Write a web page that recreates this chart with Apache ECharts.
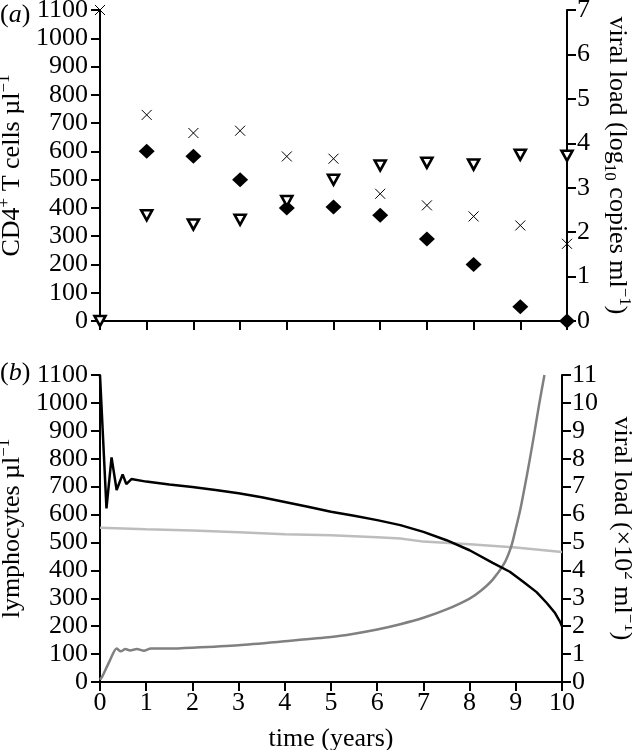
<!DOCTYPE html>
<html>
<head>
<meta charset="utf-8">
<script src="https://cdn.jsdelivr.net/npm/echarts@6/dist/echarts.min.js"></script>
<style>
html,body{margin:0;padding:0;background:#fff;}
#chart{width:632px;height:750px;}
</style>
</head>
<body>
<div id="chart"></div>
<script>
// ---- Panel (a): observed data ----
const yearsA = [0, 1, 2, 3, 4, 5, 6, 7, 8, 9, 10];
const yearsDiamond = [1, 2, 3, 4, 5, 6, 7, 8, 9, 10];
const cd4Diamond = [600, 583, 500, 400, 403, 374, 290, 200, 50, 0];           // left axis (cells/µl)
const crossValues = [1100, 729, 665, 673, 582, 574, 450, 409, 370, 338, 273];  // left axis (cells/µl)
const viralLog10 = [0, 2.38, 2.17, 2.28, 2.70, 3.18, 3.50, 3.56, 3.52, 3.74, 3.72]; // right axis

const leftTicksA = [0, 1100, 100];
const rightTicksA = [0, 7, 1];

// ---- Panel (b): model curves ----
const cd4T = [0, 0.14, 0.25, 0.36, 0.49, 0.57, 0.68, 1, 1.5, 2, 2.5, 3, 3.5, 4, 4.5, 5, 5.5, 6, 6.5, 7, 7.5, 8, 8.5, 8.87, 9.16, 9.45, 9.67, 9.85, 9.96, 10];
const cd4V = [1100, 622, 805, 688, 744, 709, 727, 718, 708, 699, 688, 676, 662, 645, 628, 610, 596, 580, 562, 538, 508, 472, 427, 395, 359, 322, 283, 247, 215, 200];

const otherT = [0, 1, 2, 3, 4, 5, 6, 6.5, 7, 8, 9, 10];
const otherV = [553, 547, 543, 537, 529, 526, 519, 514, 503, 494, 482, 466];

const virusT = [0, 0.05, 0.2, 0.36, 0.45, 0.55, 0.65, 0.8, 0.95, 1.1, 1.5, 2, 3, 4, 5, 5.5, 6, 6.5, 7, 7.5, 8, 8.25, 8.5, 8.75, 8.9, 9, 9.1, 9.2, 9.3, 9.4, 9.5, 9.62];
const virusV = [0.08, 0.2, 0.72, 1.2, 1.1, 1.18, 1.13, 1.18, 1.12, 1.2, 1.2, 1.23, 1.32, 1.46, 1.61, 1.73, 1.88, 2.07, 2.3, 2.6, 2.99, 3.28, 3.67, 4.25, 4.85, 5.5, 6.2, 7.05, 7.95, 8.9, 9.9, 11]; // ×10² ml⁻¹

const FONT = 'Liberation Serif';
const FS = 26;
const rich = {
  n: {fontSize: FS, fontFamily: FONT, color: '#000', lineHeight: 32},
  sup: {fontSize: 17, fontFamily: FONT, color: '#000', lineHeight: 17, verticalAlign: 'top'},
  sub: {fontSize: 17, fontFamily: FONT, color: '#000', lineHeight: 17, verticalAlign: 'bottom'}
};

function zip(a, b) { return a.map((x, i) => [x, b[i]]); }

const axisLine = {show: true, lineStyle: {color: '#000', width: 2}};
const axisTick = {show: true, inside: false, length: 9, lineStyle: {color: '#000', width: 2}};
const axisLabel = {color: '#000', fontSize: FS, fontFamily: FONT, margin: 12, formatter: v => String(v)};

const chart = echarts.init(document.getElementById('chart'), null, {renderer: 'canvas'});
chart.setOption({
  animation: false,
  backgroundColor: '#fff',
  grid: [
    {left: 100, top: 10, width: 467, height: 311, outerBoundsMode: 'none', containLabel: false},
    {left: 100, top: 375, width: 462, height: 307, outerBoundsMode: 'none', containLabel: false}
  ],
  xAxis: [
    {gridIndex: 0, type: 'value', min: 0, max: 10, interval: 1,
     axisLine, axisTick, axisLabel: {show: false}, splitLine: {show: false}},
    {gridIndex: 1, type: 'value', min: 0, max: 10, interval: 1,
     axisLine, axisTick, axisLabel: Object.assign({}, axisLabel, {margin: 8}), splitLine: {show: false},
     name: 'time (years)', nameLocation: 'middle', nameGap: 44,
     nameTextStyle: {fontSize: FS, fontFamily: FONT, color: '#000'}}
  ],
  yAxis: [
    {gridIndex: 0, type: 'value', position: 'left', min: leftTicksA[0], max: leftTicksA[1], interval: leftTicksA[2],
     axisLine, axisTick, axisLabel, splitLine: {show: false},
     name: '{n|CD4}{sup|+}{n| T cells µl}{sup|−1}', nameLocation: 'middle', nameGap: 59, nameRotate: 90,
     nameTextStyle: {rich}},
    {gridIndex: 0, type: 'value', position: 'right', min: rightTicksA[0], max: rightTicksA[1], interval: rightTicksA[2],
     axisLine, axisTick, axisLabel: Object.assign({}, axisLabel, {margin: 10}), splitLine: {show: false},
     name: '{n|viral load (log}{sub|10}{n| copies ml}{sup|−1}{n|)}', nameLocation: 'middle', nameGap: 31, nameRotate: -90,
     nameTextStyle: {rich}},
    {gridIndex: 1, type: 'value', position: 'left', min: 0, max: 1100, interval: 100,
     axisLine, axisTick, axisLabel, splitLine: {show: false},
     name: '{n|lymphocytes µl}{sup|−1}', nameLocation: 'middle', nameGap: 59, nameRotate: 90,
     nameTextStyle: {rich}},
    {gridIndex: 1, type: 'value', position: 'right', min: 0, max: 11, interval: 1,
     axisLine, axisTick, axisLabel: Object.assign({}, axisLabel, {margin: 10}), splitLine: {show: false},
     name: '{n|viral load (×10}{sup|2}{n| ml}{sup|−1}{n|)}', nameLocation: 'middle', nameGap: 38, nameRotate: -90,
     nameTextStyle: {rich}}
  ],
  graphic: [
    {type: 'text', left: 0, top: 2, style: {text: '{p|(}{i|a}{p|)}', rich: {
      p: {fontSize: FS, fontFamily: FONT, fill: '#000'},
      i: {fontSize: FS, fontFamily: FONT, fontStyle: 'italic', fill: '#000'}}}},
    {type: 'text', left: 0, top: 360, style: {text: '{p|(}{i|b}{p|)}', rich: {
      p: {fontSize: FS, fontFamily: FONT, fill: '#000'},
      i: {fontSize: FS, fontFamily: FONT, fontStyle: 'italic', fill: '#000'}}}}
  ],
  series: [
    {type: 'scatter', xAxisIndex: 0, yAxisIndex: 0, clip: false, z: 3,
     data: zip(yearsA, crossValues),
     symbol: 'path://M0,0L10,10M10,0L0,10', symbolSize: 10,
     itemStyle: {color: 'none', borderColor: '#000', borderWidth: 1, opacity: 1}},
    {type: 'scatter', xAxisIndex: 0, yAxisIndex: 0, clip: false, z: 3,
     data: zip(yearsDiamond, cd4Diamond),
     symbol: 'diamond', symbolSize: [16, 15],
     itemStyle: {color: '#000', opacity: 1}},
    {type: 'scatter', xAxisIndex: 0, yAxisIndex: 1, clip: false, z: 4,
     data: zip(yearsA, viralLog10),
     symbol: 'triangle', symbolRotate: 180, symbolSize: [11, 10],
     itemStyle: {color: '#fff', borderColor: '#000', borderWidth: 2.6, opacity: 1}},
    {type: 'line', xAxisIndex: 1, yAxisIndex: 2, showSymbol: false, clip: true,
     data: zip(otherT, otherV), lineStyle: {color: '#bdbdbd', width: 2.5}},
    {type: 'line', xAxisIndex: 1, yAxisIndex: 3, showSymbol: false, clip: true, smooth: 0.25,
     data: zip(virusT, virusV), lineStyle: {color: '#808080', width: 2.5}},
    {type: 'line', xAxisIndex: 1, yAxisIndex: 2, showSymbol: false, clip: true,
     data: zip(cd4T, cd4V), lineStyle: {color: '#000', width: 2.5}}
  ]
});
</script>
</body>
</html>
